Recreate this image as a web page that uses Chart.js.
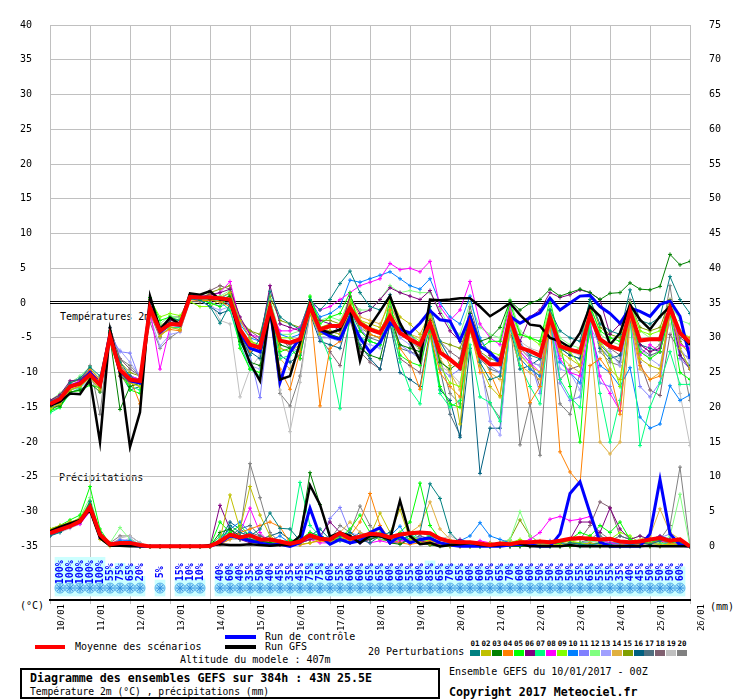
<!DOCTYPE html>
<html>
<head>
<meta charset="utf-8">
<title>Diagramme des ensembles GEFS</title>
<script src="https://cdn.jsdelivr.net/npm/chart.js@4.4.1/dist/chart.umd.min.js"></script>
<style>
body { margin: 0; background: #fff; }
#wrap { position: relative; width: 740px; height: 700px; font-family: "DejaVu Sans Mono", monospace; color: #000; }
#wrap canvas { position: absolute; left: 0; top: 0; z-index: 1; }
.t { position: absolute; white-space: pre; font-size: 10px; line-height: 12px; }
.b { font-weight: bold; }
.sw { position: absolute; height: 4px; }
#box { position: absolute; left: 20px; top: 668px; width: 420px; height: 31px; box-sizing: border-box; border: 2px solid #000; }
.pn { position: absolute; font-size: 7.5px; line-height: 9px; font-weight: bold; width: 12px; text-align: center; }
.ps { position: absolute; width: 10px; height: 6px; }
</style>
</head>
<body>
<div id="wrap">
  <div class="t" style="left:60px;top:311px">Températures 2m</div>
  <div class="t" style="left:59px;top:472px">Précipitations</div>
  <canvas id="graphique" width="740" height="700"></canvas>
  <div class="t" style="left:20px;top:600px">(°C)</div>
  <div class="t" style="left:710px;top:601px">(mm)</div>
  <div class="sw" style="left:35px;top:645px;width:30px;background:#ff0000"></div>
  <div class="t" style="left:75px;top:641px">Moyenne des scénarios</div>
  <div class="sw" style="left:225px;top:635px;width:31px;background:#0000ff"></div>
  <div class="t" style="left:265px;top:631px">Run de contrôle</div>
  <div class="sw" style="left:225px;top:645px;width:31px;background:#000"></div>
  <div class="t" style="left:265px;top:641px">Run GFS</div>
  <div class="t" style="left:180px;top:654px">Altitude du modele : 407m</div>
  <div class="t" style="left:368px;top:646px">20 Perturbations</div>
  <div id="legendePert"></div>
  <div id="box">
    <div class="t b" style="left:8px;top:1px;font-size:11.6px;line-height:14px">Diagramme des ensembles GEFS sur 384h : 43N 25.5E</div>
    <div class="t" style="left:8px;top:16px;font-size:9.7px">Température 2m (°C) , précipitations (mm)</div>
  </div>
  <div class="t" style="left:449px;top:666px">Ensemble GEFS du 10/01/2017 - 00Z</div>
  <div class="t b" style="left:449px;top:685px;font-size:11.6px;line-height:14px">Copyright 2017 Meteociel.fr</div>
</div>
<script>
// echeances (heures depuis le run du 10/01 00Z)
const heures = [0,6,12,18,24,30,36,42,48,54,60,66,72,78,84,90,96,102,108,114,120,126,132,138,144,150,156,162,168,174,180,186,192,198,204,210,216,222,228,234,240,246,252,258,264,270,276,282,288,294,300,306,312,318,324,330,336,342,348,354,360,366,372,378,384];
const jours = ['10/01','11/01','12/01','13/01','14/01','15/01','16/01','17/01','18/01','19/01','20/01','21/01','22/01','23/01','24/01','25/01','26/01'];
const ticksTemp = [-35,-30,-25,-20,-15,-10,-5,0,5,10,15,20,25,30,35,40];
const ticksPluie = [0,5,10,15,20,25,30,35,40,45,50,55,60,65,70,75];

// temperature 2m
const moyenneT = [-14.5,-13.8,-12.0,-11.6,-10.3,-11.8,-4.8,-9.6,-11.0,-11.2,-0.7,-4.0,-3.0,-3.1,0.9,0.8,0.8,0.7,0.5,-3.8,-6.0,-6.4,-0.7,-5.4,-5.7,-5.2,-0.5,-3.8,-3.3,-3.3,-0.7,-2.9,-3.8,-4.3,-1.9,-4.3,-5.2,-6.0,-2.9,-7.1,-8.1,-9.3,-3.1,-7.6,-8.8,-8.8,-2.1,-6.4,-6.9,-7.6,-2.1,-6.2,-6.7,-7.1,-1.7,-5.2,-6.2,-6.7,-1.1,-5.4,-5.2,-5.2,-0.7,-4.3,-5.7];
const controleT = [-14.6,-13.8,-12.0,-11.5,-10.0,-11.8,-4.5,-9.8,-11.2,-11.5,-0.5,-4.2,-3.0,-3.2,1.0,0.9,0.8,0.6,0.5,-4.3,-6.5,-7.0,-0.7,-11.4,-7.1,-5.0,-0.5,-3.9,-4.8,-5.2,-2.1,-5.0,-7.1,-5.7,-2.9,-3.8,-4.3,-2.9,-1.1,-2.4,-2.6,-5.4,-1.9,-6.2,-7.1,-8.6,-1.9,-2.9,-2.1,-1.4,0.7,-1.0,0.0,1.0,1.1,-0.5,-1.5,-2.9,-0.7,-1.2,-1.9,-0.2,0.3,-1.9,-8.0];
const gfsT = [-14.8,-14.2,-13.0,-13.1,-11.0,-20.0,-3.8,-10.0,-20.7,-15.7,1.0,-3.8,-2.1,-3.1,1.4,1.2,1.7,0.5,0.5,-4.8,-8.6,-11.2,-0.7,-11.0,-10.5,-5.7,0.0,-3.8,-4.3,-3.8,-0.7,-8.3,-3.3,-1.2,1.0,-2.9,-5.5,-8.3,0.5,0.4,0.5,0.7,0.7,-0.5,-1.9,-1.0,0.0,-1.7,-3.1,-3.3,-5.0,-5.5,-6.4,-4.3,-0.5,-1.9,-6.0,-4.3,-0.2,-2.4,-3.8,-1.9,-0.5,-4.3,-6.0];
const t01 = [-14.2,-13.5,-11.5,-10.8,-9.2,-10.5,-4.2,-8.5,-10.5,-11.5,-0.2,-3.5,-2.2,-2.5,0.6,0.4,-0.5,-2.9,-0.2,-4.5,-7.5,-5.0,1.7,-2.0,-3.0,-3.8,0.5,-1.0,0.5,2.8,4.6,1.5,-0.5,-1.0,1.2,-3.5,-4.5,-6.0,-0.5,-5.5,-8.0,-9.5,-2.0,-8.5,-11.0,-10.5,-2.5,-6.0,-7.5,-8.0,-1.0,-4.0,-5.0,-5.5,0.5,-3.0,-4.0,-4.5,1.9,-2.5,-3.0,-2.0,3.8,0.5,-1.5];
const t02 = [-15.2,-14.5,-12.5,-12.0,-10.8,-12.5,-5.5,-10.2,-11.5,-12.0,-1.0,-4.8,-3.5,-3.8,1.0,0.9,1.0,0.8,1.5,-2.5,-5.0,-7.0,-1.0,-6.5,-7.0,-6.0,-1.5,-4.5,-4.0,-4.5,-0.2,-2.5,-3.0,-3.5,0.8,-2.0,-3.0,-4.5,-1.5,-6.0,-9.0,-17.4,-4.0,-9.0,-12.0,-13.5,-3.0,-7.5,-9.0,-10.0,-2.5,-7.0,-8.0,-9.0,-1.0,-6.0,-9.5,-11.0,-1.5,-8.0,-9.0,-9.5,-1.0,-6.5,-9.5];
const t03 = [-15.0,-14.8,-12.8,-12.5,-11.5,-12.8,-5.0,-15.3,-12.0,-11.5,-0.5,-3.8,-2.8,-3.0,1.2,1.0,0.5,0.5,1.0,-5.5,-8.5,-9.0,-2.0,-6.0,-6.5,-5.5,-0.8,-4.0,-4.5,-5.0,-1.5,-6.5,-7.5,-8.0,-2.0,-6.0,-6.5,-7.0,-2.5,-8.5,-9.5,-8.5,-1.5,-5.5,-5.0,-3.5,0.3,-1.0,0.0,0.5,2.0,1.0,1.5,2.0,1.5,0.5,1.4,1.5,2.9,2.0,1.9,2.4,7.0,5.5,6.0];
const t04 = [-14.8,-14.0,-12.2,-11.5,-9.5,-11.0,-4.5,-8.8,-10.8,-14.5,-1.5,-4.5,-3.8,-4.0,0.5,0.3,0.4,0.2,-0.5,-4.5,-7.0,-6.5,-1.0,-9.5,-12.4,-7.0,0.0,-14.8,-6.5,-5.5,-0.5,-3.0,-4.5,-5.0,-1.0,-6.5,-8.5,-12.4,-4.5,-10.0,-12.0,-13.5,-3.5,-10.0,-10.0,-13.3,-3.0,-7.0,-14.3,-12.0,-3.0,-21.4,-24.3,-26.0,-9.0,-8.0,-10.0,-16.0,-2.0,-9.0,-11.0,-10.5,-1.5,-4.5,-5.0];
const t05 = [-15.5,-15.0,-12.8,-12.6,-11.8,-12.2,-4.2,-9.0,-12.5,-13.0,0.8,-2.5,-2.0,-2.5,1.0,0.5,0.0,-0.5,1.2,-6.5,-9.5,-10.0,-0.5,-7.0,-6.5,-8.0,1.0,-3.0,-2.0,-1.5,1.5,-4.0,-5.5,-6.0,0.5,-7.5,-8.5,-9.0,-3.5,-12.0,-14.5,-15.0,-1.5,-6.5,-5.5,-5.5,0.0,-4.5,-5.0,-5.5,0.5,-6.0,-12.0,-20.0,-0.5,-4.0,-5.0,-5.5,-1.0,-7.0,-8.0,-7.0,-1.5,-10.0,-11.0];
const t06 = [-14.0,-13.2,-11.2,-11.0,-9.8,-11.2,-5.2,-10.5,-11.5,-11.0,-1.2,-3.8,-2.5,-2.8,0.8,0.8,1.2,1.5,2.0,-2.0,-4.5,-5.5,2.5,-3.0,-3.5,-4.0,-0.5,-2.5,-3.0,-4.0,1.0,-1.5,-1.0,0.5,2.2,1.5,1.0,0.5,1.8,-1.5,-4.0,-5.5,-2.0,-6.0,-7.5,-8.0,-2.5,-5.5,-2.0,-1.0,1.5,0.8,1.2,1.9,1.5,0.5,-4.5,-3.0,-2.5,-6.0,-7.0,-6.5,-0.5,-7.5,-9.5];
const t07 = [-15.8,-15.0,-13.0,-12.2,-10.5,-12.0,-4.0,-10.0,-12.0,-12.5,-1.5,-4.0,-3.5,-3.5,1.0,0.6,0.5,0.2,-1.0,-6.0,-9.5,-10.5,-1.5,-8.0,-7.5,-6.5,0.5,-4.5,-8.0,-15.2,-1.0,-5.0,-5.5,-6.0,-2.0,-8.5,-12.5,-14.5,-4.5,-13.0,-15.0,-14.0,-6.0,-13.5,-14.3,-17.0,-3.0,-9.0,-12.0,-14.5,-2.5,-11.0,-13.5,-15.0,-3.0,-13.0,-20.0,-14.0,-2.0,-20.5,-15.0,-11.5,-7.0,-11.7,-11.7];
const t08 = [-14.2,-13.5,-11.8,-11.2,-10.0,-11.5,-5.0,-9.8,-10.5,-11.0,-1.0,-9.5,-3.5,-3.5,0.6,0.5,1.0,1.5,3.1,-2.5,-4.5,-5.0,-1.0,-4.0,-4.0,-3.5,0.2,-1.0,-0.5,0.5,1.5,2.5,3.0,3.5,5.7,4.8,5.0,4.5,6.0,-0.5,-2.5,-1.0,3.1,-3.0,-5.0,-6.0,-0.5,-7.0,-8.5,-10.0,-3.0,-8.0,-10.0,-10.5,-2.5,-10.5,-13.0,-15.5,-1.5,-7.5,-6.0,-7.0,-0.5,-6.0,-6.5];
const t09 = [-15.5,-14.2,-12.5,-12.0,-10.5,-12.2,-4.5,-10.5,-12.0,-11.5,0.5,-2.0,-1.5,-1.8,0.2,-0.5,-0.5,0.5,1.0,-4.0,-5.5,-6.0,-0.2,-5.0,-5.0,-5.5,-0.5,-3.5,-3.0,-3.5,0.5,-2.5,-3.5,-4.0,-1.0,-3.5,-4.5,-5.5,-2.0,-9.0,-11.5,-12.0,-1.5,-6.0,-7.0,-7.5,-1.0,-4.5,-5.0,-6.0,-1.0,-5.5,-7.0,-9.0,-2.0,-5.5,-7.5,-12.0,-0.5,-4.0,-4.5,-4.0,-0.5,-4.0,-5.0];
const t10 = [-14.5,-13.8,-11.8,-11.5,-10.0,-11.5,-4.8,-9.0,-10.5,-11.0,-0.8,-4.5,-2.8,-3.0,0.9,0.8,0.8,0.6,1.5,-3.0,-5.0,-5.5,-0.5,-4.5,-5.0,-4.5,0.5,-2.0,-1.5,-0.5,3.3,3.0,3.5,4.0,4.5,3.5,2.5,2.0,3.5,0.0,-2.0,-3.0,1.0,-5.0,-7.5,-9.0,-2.5,-8.0,-9.5,-10.5,-2.0,-8.5,-10.0,-11.5,-4.0,-9.0,-10.0,-12.0,-9.3,-16.4,-18.0,-17.4,-11.9,-14.0,-13.2];
const t11 = [-14.8,-14.0,-12.0,-11.8,-10.2,-12.0,-4.5,-7.0,-7.2,-11.0,-1.0,-4.8,-3.0,-3.2,0.8,0.6,0.2,-0.5,0.0,-5.0,-7.5,-13.6,-1.5,-6.5,-7.0,-6.5,-1.0,-5.0,-5.0,-5.5,-0.5,-3.5,-5.5,-6.0,-1.5,-6.0,-7.0,-8.0,-3.5,-9.5,-10.5,-9.5,-2.5,-7.0,-9.0,-10.0,-1.5,-5.5,-8.0,-13.0,-3.0,-11.5,-14.0,-13.5,-2.5,-11.5,-12.0,-15.5,-2.0,-12.0,-13.5,-11.4,-1.5,-8.0,-9.5];
const t12 = [-14.0,-13.0,-11.5,-10.5,-9.2,-11.0,-5.0,-9.5,-11.0,-12.0,-0.5,-3.0,-1.8,-2.2,1.1,0.9,0.9,1.0,1.8,-3.5,-5.5,-6.0,0.5,-4.5,-4.5,-4.0,0.8,-2.5,-2.0,-2.5,0.5,-1.0,-1.0,0.5,2.5,1.5,1.8,1.5,1.5,-1.0,-3.5,-4.5,0.0,-3.5,-4.5,-5.0,0.5,-4.0,-5.0,-5.5,-0.5,-5.0,-6.0,-6.5,0.0,-4.5,-5.5,-6.0,0.0,-4.0,-5.0,-5.5,0.0,-2.5,-3.0];
const t13 = [-15.0,-14.5,-12.5,-12.2,-11.0,-12.5,-5.5,-6.8,-8.5,-10.5,-2.0,-6.2,-4.5,-4.2,0.7,0.3,-0.5,-1.0,-0.5,-6.0,-9.0,-9.5,-1.0,-6.0,-6.5,-5.5,-1.0,-4.5,-4.0,-4.5,-1.5,-5.5,-6.0,-6.5,-2.0,-5.0,-6.0,-6.0,-3.0,-5.5,-8.0,-9.0,-4.0,-8.0,-17.0,-19.0,-3.5,-7.5,-8.5,-9.0,-2.5,-9.5,-10.0,-12.5,-3.5,-6.0,-7.0,-9.0,-2.0,-6.5,-8.0,-9.0,-1.5,-6.5,-8.5];
const t14 = [-14.8,-13.8,-12.2,-11.5,-10.2,-11.8,-5.0,-9.5,-11.2,-12.0,-0.5,-3.2,-2.5,-2.8,0.9,0.7,0.6,0.2,0.5,-4.0,-5.5,-6.5,0.0,-8.0,-9.5,-6.5,-0.8,-4.5,-3.5,-3.0,1.0,-2.0,-2.5,-3.0,0.0,-3.5,-4.5,-5.0,-2.0,-8.0,-10.0,-12.5,-3.0,-7.0,-10.0,-11.0,-4.5,-9.0,-10.0,-11.0,-2.5,-7.5,-9.0,-10.0,-4.5,-20.0,-21.7,-20.0,-3.0,-9.5,-11.0,-10.0,-1.5,-6.0,-7.0];
const t15 = [-14.2,-13.4,-11.4,-11.0,-9.8,-11.5,-4.5,-8.5,-10.0,-10.5,0.5,-3.5,-2.5,-2.5,0.5,0.5,1.5,2.0,2.5,-2.5,-4.0,-4.5,1.0,-2.5,-3.0,-3.5,0.2,-2.5,-2.5,-3.0,0.0,-3.0,-4.5,-5.0,-1.0,-4.5,-5.5,-6.5,-1.5,-5.5,-6.0,-6.5,-2.5,-7.0,-8.0,-8.5,-3.0,-8.0,-9.5,-10.5,-2.0,-6.5,-7.0,-6.5,0.5,-3.5,-4.5,-5.0,0.0,-3.5,-4.0,-3.5,0.5,-5.5,-7.5];
const t16 = [-15.5,-14.5,-12.5,-12.0,-10.5,-12.0,-4.0,-10.0,-12.5,-12.0,-0.8,-3.8,-3.0,-3.0,0.8,0.5,-0.5,-1.5,-1.0,-5.5,-7.0,-8.0,-1.5,-7.5,-8.5,-7.5,-1.5,-5.5,-6.0,-6.5,-1.5,-6.0,-8.0,-9.5,-3.0,-10.0,-11.0,-12.0,-4.0,-12.5,-14.0,-19.3,-6.5,-24.5,-18.0,-18.0,-3.5,-9.5,-9.0,-8.0,-2.0,-6.5,-7.5,-8.0,-1.5,-6.5,-8.0,-7.5,-1.0,-6.0,-6.5,-7.0,-0.5,-7.5,-9.0];
const t17 = [-14.6,-13.6,-12.0,-11.2,-10.0,-11.5,-3.5,-9.0,-10.5,-11.0,-1.0,-4.0,-3.2,-3.0,0.8,0.9,1.0,0.8,0.5,-4.5,-6.5,-7.0,-0.5,-5.5,-6.0,-5.5,0.0,-4.0,-4.0,-4.5,-1.0,-4.0,-5.0,-5.5,-2.5,-6.5,-7.0,-7.5,-2.5,-9.5,-16.0,-19.0,-2.0,-8.0,-9.5,-10.0,-2.0,-7.0,-8.5,-9.0,-1.0,-6.5,-7.5,-8.0,-0.5,-6.0,-7.5,-8.5,-1.0,-6.5,-7.5,-7.0,-1.0,-5.0,-6.0];
const t18 = [-14.0,-13.2,-11.5,-11.0,-9.5,-11.0,-3.6,-8.0,-9.5,-10.5,-1.5,-5.0,-2.0,-2.0,1.0,1.0,1.8,2.5,2.0,-2.5,-4.0,-5.0,0.5,-5.0,-6.5,-8.0,-0.5,-5.0,-7.0,-9.0,-2.5,-7.0,-8.5,-9.5,-3.0,-8.0,-9.0,-10.0,-1.5,-5.5,-7.0,-8.0,-0.5,-5.5,-7.0,-8.5,-1.0,-6.5,-8.0,-12.0,-2.5,-11.0,-9.5,-9.0,-1.5,-5.5,-6.5,-7.5,-0.5,-8.5,-12.5,-13.3,-4.5,-7.0,-8.0];
const t19 = [-14.5,-13.8,-12.2,-11.8,-10.5,-12.5,-5.5,-10.0,-11.5,-11.8,-1.5,-4.5,-3.5,-3.8,0.6,0.5,0.3,-2.5,-3.0,-13.5,-9.5,-7.5,-1.5,-12.5,-18.5,-11.4,-1.0,-5.0,-4.5,-4.0,-0.5,-3.5,-4.0,-4.0,-1.0,-3.5,-5.0,-7.0,-3.0,-9.0,-10.0,-11.5,-4.0,-7.5,-8.0,-7.5,-0.5,-5.5,-6.5,-7.0,-1.5,-6.0,-7.0,-7.5,-2.0,-6.5,-7.5,-8.0,-2.5,-7.0,-8.0,-6.5,-3.0,-13.0,-20.5];
const t20 = [-14.0,-13.5,-11.8,-11.2,-9.0,-16.0,-3.5,-8.0,-9.0,-10.5,-2.8,-6.5,-5.0,-4.0,0.2,0.2,0.5,0.2,0.0,-4.0,-6.0,-7.0,-1.0,-13.0,-14.8,-10.5,-1.5,-4.5,-4.5,-5.0,-1.0,-3.5,-4.5,-5.0,-0.5,-3.0,-5.0,-6.5,-0.5,-8.0,-13.0,-14.5,-2.0,-9.0,-14.5,-16.5,-1.5,-20.4,-14.5,-21.9,-2.0,-14.5,-16.0,-10.0,-0.5,-7.0,-8.5,-9.0,0.5,-6.0,-7.0,-6.0,2.5,-7.0,-14.0];

// precipitations (mm / 6h)
const moyenneP = [1.9,2.4,2.9,3.6,5.7,1.7,0.3,0.5,0.5,0.2,0,0,0,0,0,0,0.05,0.7,1.7,1.3,1.6,1.0,1.0,0.7,0.4,0.7,1.6,1.1,1.0,1.9,1.1,1.4,1.8,1.7,1.3,1.7,1.9,2.0,1.9,1.1,0.7,0.6,0.6,0.4,0.2,0.4,0.3,0.6,0.6,0.7,0.6,0.8,1.1,1.2,1.1,1.0,1.1,0.7,0.6,0.7,1.0,1.2,0.8,1.0,0];
const controleP = [2.0,2.5,3.0,3.5,5.5,1.5,0.2,0.3,0.2,0,0,0,0,0,0,0,0,0.5,1.5,1.2,0.8,0.5,0.2,0.3,0,0.5,5.5,1.5,0.3,1.0,0.5,0.8,2.0,2.7,0.5,1.5,0.5,1.0,1.2,0.5,0.2,0,0,0,0,0,0.2,0.3,0.2,0,0,1.8,7.6,9.3,4.8,0.6,0,0,0,0,1.8,9.6,1.8,0.2,0];
const gfsP = [2.2,2.8,3.3,3.8,5.2,1.2,0.1,0.1,0,0,0,0,0,0,0,0,0.2,0.3,0.2,0.2,0.3,0.2,0.1,0.2,0.2,1.5,8.8,6.0,1.4,2.0,1.5,0.5,1.5,1.5,1.0,6.6,1.5,0.3,0.5,0,0.2,0.3,0.5,0.2,0.1,0.2,0.3,0.4,0,0,0,0,0.2,0,0,0,0,0,0,0,0.1,0,0,0,0];
const p01 = [1.5,2.0,3.0,3.5,6.5,2.0,0.3,0.5,0.5,0.2,0,0,0,0,0,0,0,0.5,3.0,2.0,1.5,2.5,4.8,2.6,2.5,0.8,1.5,2.5,1.0,1.5,2.0,1.0,0.5,1.5,2.0,1.0,1.5,2.0,9.0,6.9,2.0,0.5,0.2,0,0,0.2,0,0.3,0.5,0,0,0,0.5,0.3,0.2,0.5,0.3,0,0.2,0.5,0.3,0.8,1.0,0.5,0];
const p02 = [2.5,3.0,3.5,4.0,5.0,1.0,0,0.2,0.3,0,0,0,0,0,0,0,0,1.0,7.4,2.5,8.6,4.5,1.5,0.5,0.2,0.3,0.5,1.0,0.5,1.5,0.8,1.5,1.5,4.8,2.0,5.3,1.0,0.5,0.3,0.2,0,0,0,0.2,0.5,0.3,0.2,0.8,0.5,0.2,0.3,0.2,0.5,0.2,0.5,0.3,0.2,0.2,0.5,0.3,0.5,0.2,0.3,0.2,0];
const p03 = [1.8,2.5,3.2,4.0,6.0,1.5,0.2,0.3,0.2,0.1,0,0,0,0,0,0,0,2.0,2.5,1.5,1.0,0.8,0.5,0.3,0.5,1.5,10.6,6.0,1.0,1.0,0.5,0.8,1.0,1.5,0.5,0.3,1.0,0.5,0.2,0,0,0,0,0,0,0,0,0,0,0,0,0,0,0,0,0,0,0,0,0,0,0,0.2,0.3,0];
const p04 = [2.2,2.8,3.5,3.8,5.5,1.8,0.5,0.2,0.2,0,0,0,0,0,0,0,0,0.3,1.0,2.0,2.5,3.0,3.5,2.8,0.5,0.2,0.5,0.8,0.5,1.0,1.5,3.5,7.6,3.0,1.0,0.5,0.3,0.5,0.8,0.5,0.2,0,0,0.2,0.3,0,0,0.3,0.5,0.2,0.2,0,0,0.2,0.3,0,0,0,0.2,0.3,0,0,0.5,0.2,0];
const p05 = [2.5,3.0,3.8,4.5,8.6,2.5,0.3,0.5,0.5,0,0,0,0,0,0,0,0,3.5,2.0,3.0,1.5,1.0,0.5,0.5,0.8,1.0,2.0,1.5,1.0,1.2,2.5,4.5,2.0,1.5,1.0,2.0,3.5,9.1,3.0,1.0,0.5,0.3,0.2,0,0,0,0.2,0.5,0.3,0,0,0.5,1.0,2.0,1.5,3.0,2.0,3.5,1.0,0.5,0.5,1.0,0.5,0.8,0];
const p06 = [1.5,2.2,2.8,3.5,5.5,1.5,0.2,0.2,0.3,0,0,0,0,0,0,0,0,5.9,2.5,1.0,0.5,0.8,0.5,0.2,0.2,0.5,1.0,1.5,3.5,2.0,1.0,0.5,1.0,1.5,0.5,0.5,1.0,0.8,0.5,0.3,0.5,1.0,0.5,0.3,0,0,0,0,0,0,0.3,0.5,1.0,3.5,3.5,2.0,5.5,2.5,1.0,1.5,1.0,1.5,1.0,0.5,0];
const p07 = [2.0,2.6,3.0,3.8,6.2,2.0,0.3,0.5,0.3,0,0,0,0,0,0,0,0,1.5,2.0,1.0,1.5,0.5,0.5,0.5,1.0,9.2,3.0,1.5,1.0,2.0,1.5,1.0,1.5,2.0,1.0,1.5,1.0,2.0,1.5,1.0,0.5,0.2,0,0,0,0,0,0,0,0.5,0.2,0,0,0,0,0,0,0,0.2,0,0,0.3,0.5,0.5,0];
const p08 = [1.8,2.2,2.8,3.2,5.0,1.2,0.2,0.2,0.2,0,0,0,0,0,0,0,0,1.0,1.5,2.0,5.5,2.0,0.5,0.3,0.2,0.5,1.0,0.5,0.5,1.0,0.5,1.0,0.5,0.8,0.5,0.8,1.0,0.5,0.3,0.5,0.2,0.3,0.5,0.8,0.5,0.2,0.3,0.5,1.0,2.0,3.9,4.3,3.7,3.9,4.3,1.0,0.5,0.2,0.5,0.3,0.5,0.8,0.5,0.3,0];
const p09 = [2.0,2.5,3.2,4.0,6.5,1.5,0.2,0.3,0.3,0,0,0,0,0,0,0,0,0.8,1.5,1.0,1.5,1.0,0.5,0.5,0.3,0.5,1.5,1.0,0.8,1.5,1.0,1.2,1.5,1.0,0.8,1.0,1.5,1.0,0.8,0.5,0.3,0.2,0,0,0,0.2,0.5,1.0,0.5,0.3,0.2,0.5,0.8,0.5,0.3,0.5,1.0,2.0,1.5,0.5,0.5,1.0,0.5,0.3,0];
const p10 = [2.3,2.7,3.3,3.6,5.8,1.8,0.3,0.8,0.8,0.2,0,0,0,0,0,0,0,1.0,2.5,3.5,2.0,1.0,0.8,1.5,0.5,0.8,2.0,1.5,1.0,0.8,1.0,0.5,1.5,1.5,1.5,2.9,0.5,1.0,0.5,0.3,0.5,0.8,1.5,3.4,1.5,1.0,0.5,0.5,0.3,0.5,0.8,0.5,0.3,0.5,0.3,0.2,0.5,0.3,0.2,0.5,0.5,1.0,0.5,0.3,0];
const p11 = [1.8,2.4,3.0,3.6,6.0,1.8,0.3,1.0,0.8,0.3,0,0,0,0,0,0,0,0.5,1.5,2.0,1.5,1.0,0.5,0.5,0.8,1.0,1.5,1.0,4.0,5.6,2.0,1.0,1.2,1.5,1.0,1.0,1.5,1.2,1.0,0.5,0.3,0.2,0.2,0.3,0.5,0.3,0.2,0.5,0.3,0.2,0.3,0.5,0.3,0.5,0.5,0.3,0.5,0.5,0.3,0.5,0.8,1.2,1.8,0.5,0];
const p12 = [2.0,2.5,3.3,4.2,7.0,2.0,0.5,2.7,1.0,0.3,0,0,0,0,0,0,0,0.5,1.0,1.5,1.0,0.5,0.3,0.5,0.2,0.5,1.0,1.5,1.0,0.8,0.5,0.8,1.0,1.5,1.0,0.8,1.5,1.0,0.8,0.5,0.3,0.2,0.5,0.3,0.2,0.5,1.0,5.0,1.5,0.5,0.3,0.5,0.3,0.5,0.8,0.5,0.3,0.5,1.0,1.5,0.8,0.5,1.5,7.5,0];
const p13 = [1.6,2.1,2.7,3.3,5.5,1.6,0.2,0.5,1.2,0.2,0,0,0,0,0,0,0,0.8,1.5,1.0,1.2,0.8,0.5,0.3,0.5,0.8,1.2,1.0,1.5,1.2,2.0,1.5,1.0,1.2,1.0,1.5,1.0,1.2,1.0,0.8,0.5,0.3,0.2,0.2,0.3,0.2,0.5,0.5,0.3,0.2,0.3,0.3,0.2,0.5,0.8,0.5,0.5,0.3,0.5,0.5,1.0,1.5,1.0,0.5,0];
const p14 = [2.4,2.9,3.4,3.9,6.0,1.8,0.3,0.3,0.5,0,0,0,0,0,0,0,0,0.5,1.5,2.0,1.5,1.0,0.8,0.5,0.5,0.8,1.5,1.0,1.0,2.0,3.5,2.0,1.5,2.5,1.0,1.5,2.0,3.0,6.4,2.5,1.0,0.5,0.3,0.2,0.3,0.5,0.8,0.5,0.5,0.8,0.5,0.5,0.8,1.0,1.5,0.8,1.0,0.5,0.5,1.0,1.5,5.4,2.0,1.0,0];
const p15 = [2.1,2.6,3.1,3.7,5.8,1.5,0.2,0.2,0.2,0,0,0,0,0,0,0,0,1.5,2.0,1.5,1.0,0.8,0.5,0.5,0.3,0.5,1.0,1.5,1.0,1.0,1.5,1.0,1.5,2.0,1.5,1.0,1.5,2.0,1.5,1.0,0.5,0.5,0.3,0.2,0.3,0.5,1.0,3.8,1.5,0.5,0.3,0.3,0.5,0.5,0.8,1.0,0.5,0.5,0.5,0.8,0.5,0.5,0.8,0.5,0];
const p16 = [1.7,2.3,2.9,3.5,6.2,1.7,0.3,0.5,0.5,0,0,0,0,0,0,0,0,1.0,3.5,2.5,1.5,1.0,1.5,2.0,1.0,0.5,1.0,1.5,1.0,1.5,1.0,2.0,1.5,1.0,0.8,1.0,1.5,1.0,1.5,1.0,0.5,0.3,0.2,0.2,0.3,0.2,0.3,0.5,0.3,0.2,0.5,0.5,0.3,0.5,1.0,0.8,0.5,0.5,0.3,0.5,1.0,0.8,0.5,0.3,0];
const p17 = [1.9,2.4,3.0,3.6,5.6,1.6,0.2,0.3,0.3,0,0,0,0,0,0,0,0,0.8,1.5,2.5,3.0,1.5,1.0,0.8,0.5,0.5,1.0,1.5,1.0,1.0,1.5,1.0,2.0,1.5,1.0,1.5,1.0,1.5,1.0,0.5,0.5,0.5,0.3,0.2,0.2,0.3,0.5,0.3,0.2,0.3,0.5,0.3,0.5,0.5,1.0,1.5,0.8,1.5,1.0,0.5,0.5,1.0,0.5,0.3,0];
const p18 = [2.0,2.5,3.1,3.7,5.9,1.7,0.3,0.3,0.3,0,0,0,0,0,0,0,0,1.0,1.5,1.0,2.0,1.5,1.0,0.5,0.5,0.5,1.0,1.0,0.8,1.0,1.0,1.2,1.0,1.5,1.0,1.0,1.5,1.0,0.5,0.5,0.3,0.2,0.2,0.2,0.3,0.2,0.5,0.3,0.5,0.3,0.5,0.5,0.8,1.0,3.0,6.4,5.6,1.5,1.0,0.5,0.5,0.8,0.5,0.3,0];
const p19 = [1.6,2.0,2.6,3.2,5.2,1.4,0.2,1.2,1.5,0.5,0,0,0,0,0,0,0,0.5,1.0,1.0,0.8,0.5,0.5,0.3,0.5,1.0,1.5,1.0,0.8,1.0,0.5,1.0,1.5,1.5,0.8,1.0,1.0,1.5,1.2,1.0,1.5,0.8,0.5,0.3,0.5,0.3,0.2,0.5,0.3,0.2,0.3,0.5,0.3,0.5,0.5,0.3,0.5,0.3,0.3,0.5,0.3,0.5,0.3,0.3,0];
const p20 = [2.2,2.7,3.2,3.8,6.0,1.6,0.5,1.5,1.5,0.5,0,0,0,0,0,0,0,1.0,1.5,2.0,11.9,7.0,2.0,0.5,0.3,0.5,1.0,1.0,1.0,3.0,2.0,5.8,3.0,1.5,1.0,1.0,1.5,1.0,0.8,0.5,0.5,0.3,0.2,0.2,0.3,0.5,0.3,0.5,0.3,0.2,0.3,0.3,0.2,0.5,1.0,2.0,1.0,0.5,0.3,0.5,0.3,1.0,3.0,11.4,0];

// probabilite de neige (%) par echeance, null = pas de symbole
const neigePct = [null,100,100,100,100,100,55,75,65,20,null,5,null,15,10,10,null,40,60,40,35,50,40,45,35,45,75,75,60,55,60,60,65,65,60,60,55,60,85,65,70,65,60,60,50,65,70,60,60,50,50,50,50,55,65,55,55,35,40,45,50,50,50,60,null];

const couleursPert = ['#008080','#c0c000','#008000','#ff8000','#00ff00','#800080','#00ff80','#ff00ff','#80ff00','#0080ff','#8080ff','#80ff80','#a0a0ff','#e0b040','#80a000','#006080','#507080','#806070','#c0c0c0','#808080'];
const pertT = [t01,t02,t03,t04,t05,t06,t07,t08,t09,t10,t11,t12,t13,t14,t15,t16,t17,t18,t19,t20];
const pertP = [p01,p02,p03,p04,p05,p06,p07,p08,p09,p10,p11,p12,p13,p14,p15,p16,p17,p18,p19,p20];

// mise en page (pixels)
const POLICE = 'DejaVu Sans Mono';
const HAUT = 21, BAS = 600, PX_DEG = 7;
const Y_MIN = 40 - (BAS - HAUT) / PX_DEG;
const PCT_ZERO = 581, PCT_PX = 0.24;
const YP_MIN = -(BAS - PCT_ZERO) / PCT_PX, YP_MAX = (PCT_ZERO - HAUT) / PCT_PX;
const BASE_BARRE = -(596 - PCT_ZERO) / PCT_PX;
const NIV_FLOCON = -(588 - PCT_ZERO) / PCT_PX;
const NIV_TEXTE = (PCT_ZERO - 572) / PCT_PX;

function num(i) { return (i + 1 < 10 ? '0' : '') + (i + 1); }

// legende des perturbations
const leg = document.getElementById('legendePert');
couleursPert.forEach((c, i) => {
    const x = 470 + i * 10.9;
    const n = document.createElement('div');
    n.className = 'pn';
    n.style.left = (x - 1) + 'px';
    n.style.top = '639px';
    n.textContent = num(i);
    const s = document.createElement('div');
    s.className = 'ps';
    s.style.left = x + 'px';
    s.style.top = '650px';
    s.style.background = c;
    leg.appendChild(n);
    leg.appendChild(s);
});

function courbe(label, data, color, width, axe, order, croix) {
    return {
        label: label, data: data, yAxisID: axe, order: order,
        borderColor: color, backgroundColor: color, borderWidth: width,
        pointRadius: croix ? 2 : 0, pointStyle: 'cross', pointBorderWidth: 1, pointBorderColor: color,
        tension: 0, fill: false
    };
}

const datasets = [];
datasets.push(courbe('Moyenne T', moyenneT, '#ff0000', 4, 'y', 0, false));
datasets.push(courbe('Moyenne P', moyenneP, '#ff0000', 4, 'y2', 0, false));
datasets.push(courbe('GFS T', gfsT, '#000000', 2.5, 'y', 1, false));
datasets.push(courbe('GFS P', gfsP, '#000000', 2.5, 'y2', 1, false));
datasets.push(courbe('Controle T', controleT, '#0000ff', 3, 'y', 2, false));
datasets.push(courbe('Controle P', controleP, '#0000ff', 3, 'y2', 2, false));
pertT.forEach((d, i) => datasets.push(courbe('T' + num(i), d, couleursPert[i], 1, 'y', 3, true)));
pertP.forEach((d, i) => datasets.push(courbe('P' + num(i), d, couleursPert[i], 1, 'y2', 3, true)));

const flocons = [];
const barres = [];
neigePct.forEach((p, i) => {
    if (p === null) return;
    flocons.push({ x: heures[i], y: NIV_FLOCON });
    barres.push({ x: heures[i], y: [BASE_BARRE, p] });
});
datasets.push({
    label: 'flocon', data: flocons, yAxisID: 'yp', order: 4, showLine: false,
    pointStyle: 'star', pointRadius: 4, pointBorderWidth: 1, pointBorderColor: '#2f8fe0', pointBackgroundColor: '#2f8fe0'
});
datasets.push({
    label: 'rond', data: flocons, yAxisID: 'yp', order: 5, showLine: false,
    pointStyle: 'circle', pointRadius: 5, pointBorderWidth: 1, pointBorderColor: '#5ab4ec', pointBackgroundColor: '#a6e2fa'
});
datasets.push({
    type: 'bar', label: 'neige', data: barres, yAxisID: 'yp', order: 6,
    backgroundColor: '#ccffff', borderWidth: 0, barThickness: 10
});

const ligneZero = {
    id: 'ligneZero',
    beforeDatasetsDraw(chart) {
        const { ctx, chartArea } = chart;
        const y0 = Math.round(chart.scales.y.getPixelForValue(0));
        ctx.save();
        ctx.strokeStyle = '#000';
        ctx.lineWidth = 1;
        [y0 - 1.5, y0 + 0.5].forEach(py => {
            ctx.beginPath();
            ctx.moveTo(chartArea.left, py);
            ctx.lineTo(chartArea.right, py);
            ctx.stroke();
        });
        ctx.restore();
    }
};

const textesNeige = {
    id: 'textesNeige',
    afterDatasetsDraw(chart) {
        const idx = chart.data.datasets.findIndex(d => d.label === 'neige');
        const meta = chart.getDatasetMeta(idx);
        const yTexte = chart.scales.yp.getPixelForValue(NIV_TEXTE);
        const ctx = chart.ctx;
        ctx.save();
        ctx.fillStyle = '#0000ff';
        ctx.font = 'bold 10px "' + POLICE + '"';
        ctx.textAlign = 'center';
        ctx.textBaseline = 'middle';
        meta.data.forEach((barre, k) => {
            const v = barres[k].y[1];
            ctx.save();
            ctx.translate(barre.x, yTexte);
            ctx.rotate(-Math.PI / 2);
            ctx.fillText(v + '%', 0, 0);
            ctx.restore();
        });
        ctx.restore();
    }
};

new Chart(document.getElementById('graphique'), {
    type: 'line',
    data: { labels: heures, datasets: datasets },
    options: {
        responsive: false,
        animation: false,
        devicePixelRatio: 1,
        layout: { padding: { top: HAUT, left: 20 } },
        plugins: { legend: { display: false }, tooltip: { enabled: false } },
        scales: {
            x: {
                type: 'linear', min: 0, max: 384, offset: false,
                afterFit: s => { s.height = 700 - BAS; },
                afterBuildTicks: s => { s.ticks = jours.map((j, i) => ({ value: i * 24 })); },
                ticks: {
                    autoSkip: false, minRotation: 90, maxRotation: 90, labelOffset: 12, padding: 0,
                    color: '#000', font: { family: POLICE, size: 9 },
                    callback: v => jours[v / 24]
                },
                grid: { color: '#c0c0c0', tickLength: 4, offset: false },
                border: { color: '#000', width: 2 }
            },
            y: {
                position: 'left', min: Y_MIN, max: 40,
                afterFit: s => { s.width = 30; },
                afterBuildTicks: s => { s.ticks = ticksTemp.map(v => ({ value: v })); },
                ticks: { crossAlign: 'far', padding: 0, color: '#000', font: { family: POLICE, size: 10 } },
                grid: { color: '#c0c0c0', drawTicks: false },
                border: { display: false }
            },
            y2: {
                position: 'right', min: Y_MIN + 35, max: 75,
                afterFit: s => { s.width = 50; },
                afterBuildTicks: s => { s.ticks = ticksPluie.map(v => ({ value: v })); },
                ticks: { padding: 19, color: '#000', font: { family: POLICE, size: 10 } },
                grid: { display: false, drawTicks: false },
                border: { display: false }
            },
            yp: { display: false, min: YP_MIN, max: YP_MAX }
        }
    },
    plugins: [ligneZero, textesNeige]
});
</script>
</body>
</html>
